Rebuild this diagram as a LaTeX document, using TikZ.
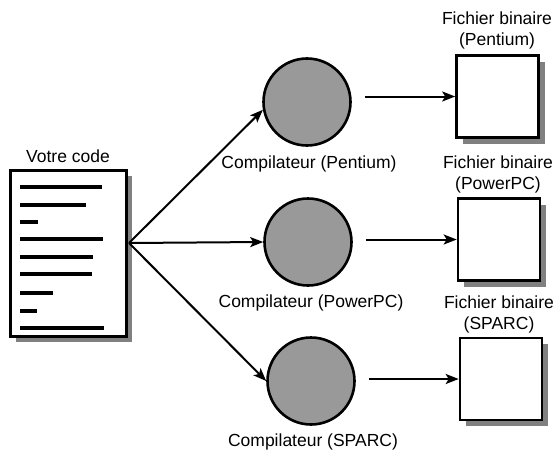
\documentclass[tikz,border=0pt]{standalone}
\usepackage{fontspec}
\setmainfont{Liberation Sans}
\usetikzlibrary{arrows.meta,shadows}

\begin{document}
\begin{tikzpicture}[x=1pt, y=-1pt, ->, >={Stealth[length=13pt,width=10pt,inset=3pt]}, line width=2pt,
                    font=\fontsize{17.5}{21}\selectfont,
                    comp node/.style={circle,draw,line width=2.6pt,fill=black!40,minimum size=87pt,inner sep=0pt},
                    bin node/.style={rectangle,draw,line width=2.6pt,fill=white,minimum size=82pt,
                      drop shadow={shadow xshift=6pt,shadow yshift=-6pt,fill=black!50,opacity=1}},
                    doc node/.style={rectangle,draw,line width=2.6pt,fill=white,minimum width=116pt,minimum height=166pt,
                      drop shadow={shadow xshift=5pt,shadow yshift=-5pt,fill=black!50,opacity=1}},
                    code line/.style={-,line width=3.2pt}]

  \useasboundingbox (0,0) rectangle (556,452);

  % Code source
  \node[doc node] (code) at (68.5,253.5) {};
  \node (votre) at (68,156) {Votre code};
  \foreach \y/\e in {187/102,205/86,222/38,239/103,257/93,274/92,293/53,311/37,328/104}
    \draw[code line] (20,\y) -- (\e,\y);
  \coordinate (src) at (129,243);

  % Compilateurs
  \node[comp node] (cp) at (307,102) {};
  \node[comp node] (cw) at (308,242) {};
  \node[comp node] (cs) at (311,381) {};
  \node (lp) at (309,164) {Compilateur (Pentium)};
  \node (lw) at (311,303) {Compilateur (PowerPC)};
  \node (ls) at (313,442) {Compilateur (SPARC)};

  % Fichiers binaires
  \node[bin node] (bp) at (497.5,96.5) {};
  \node[bin node] (bw) at (499,239.5) {};
  \node[bin node] (bs) at (501,379) {};
  \node[align=center] (tp) at (497,30) {Fichier binaire\\(Pentium)};
  \node[align=center] (tw) at (498,174) {Fichier binaire\\(PowerPC)};
  \node[align=center] (ts) at (499,314) {Fichier binaire\\(SPARC)};

  \draw (src) -- (cp.190);
  \draw (src) -- (cw.west);
  \draw (src) -- (cs.west);

  \draw ([xshift=13pt]cp.east |- bp.west) -- (bp.west);
  \draw ([xshift=13pt]cw.east |- bw.west) -- (bw.west);
  \draw ([xshift=13pt]cs.east |- bs.west) -- (bs.west);

\end{tikzpicture}
\end{document}
